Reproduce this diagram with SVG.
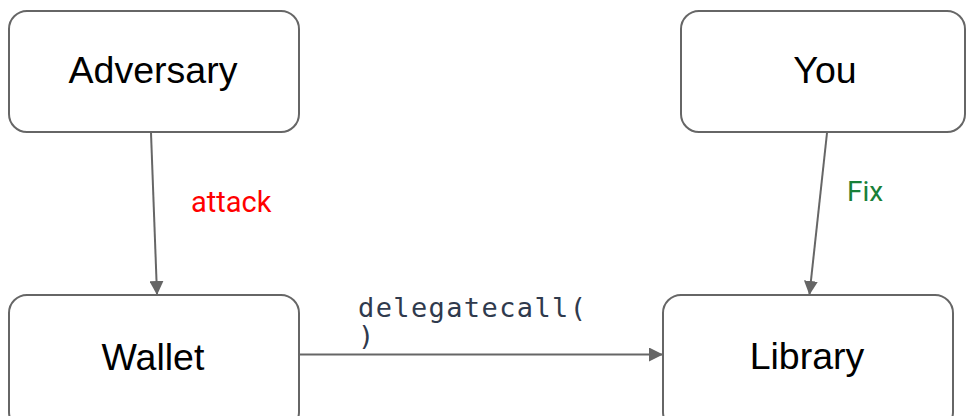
<svg xmlns="http://www.w3.org/2000/svg" width="967" height="416" viewBox="0 0 967 416">
<style>
.box{fill:#fff;stroke:#666;stroke-width:2}
.lbl{font-family:"Liberation Sans",Arial,sans-serif;font-size:37.5px;fill:#000;text-anchor:middle}
.edge{stroke:#666;stroke-width:2;fill:none}
.mono{font-family:"DejaVu Sans Mono",monospace;font-size:27px;fill:#2f3a4d}
</style>
<defs>
<marker id="ah" markerWidth="14" markerHeight="14" refX="13" refY="7" orient="auto" markerUnits="userSpaceOnUse" viewBox="0 0 14 14">
<path d="M0,0 L14,7 L0,14 z" fill="#666"/>
</marker>
</defs>
<g id="connectors">
<path class="edge" d="M151,133 L157,294" marker-end="url(#ah)"/>
<path class="edge" d="M827,133 L809.5,294" marker-end="url(#ah)"/>
<path class="edge" d="M300,354.5 L662,354.5" marker-end="url(#ah)"/>
<text x="191" y="212" font-family="Roboto,sans-serif" font-size="29" fill="#ff0000">attack</text>
<text x="847" y="201" font-family="Roboto,sans-serif" font-size="28" fill="#188038">Fix</text>
<text class="mono" x="358" y="317" textLength="228" lengthAdjust="spacing">delegatecall(</text>
<text class="mono" x="358" y="345">)</text>
</g>
<g id="adversary">
<rect class="box" x="9" y="11" width="290" height="121" rx="18"/>
<text class="lbl" x="153" y="83">Adversary</text>
</g>
<g id="you">
<rect class="box" x="681" y="11" width="284" height="121" rx="18"/>
<text class="lbl" x="825" y="83">You</text>
</g>
<g id="wallet">
<rect class="box" x="9" y="295" width="290" height="135" rx="18"/>
<text class="lbl" x="153" y="370">Wallet</text>
</g>
<g id="library">
<rect class="box" x="663" y="295" width="290" height="135" rx="18"/>
<text class="lbl" x="807" y="369">Library</text>
</g>
</svg>
